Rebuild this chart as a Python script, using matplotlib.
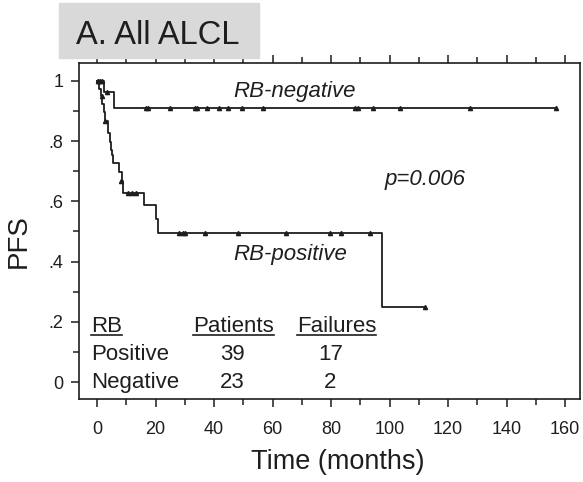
import matplotlib
matplotlib.use("Agg")
import matplotlib.pyplot as plt
from matplotlib.patches import Rectangle
from matplotlib.lines import Line2D

plt.rcParams["font.family"] = ["Liberation Sans", "DejaVu Sans"]

# Kaplan-Meier step data (months, PFS)
neg_times = [0, 2.3, 5.9, 156.9]
neg_surv = [1.0, 0.962, 0.910, 0.910]
neg_cens_t = [0.3, 1.0, 1.8, 3.5, 16.8, 17.4, 25.0, 33.5, 34.2, 37.6, 41.7,
              44.8, 49.6, 56.8, 88.2, 89.2, 94.4, 103.6, 127.5, 156.9]
neg_cens_s = [1.0, 1.0, 1.0, 0.962] + [0.910] * 16

pos_times = [0, 0.6, 1.4, 1.8, 2.3, 2.9, 3.9, 4.3, 4.8, 5.1, 5.4, 7.6, 8.4,
             9.0, 16.2, 20.2, 20.7, 97.5, 112.1]
pos_surv = [1.0, 0.974, 0.949, 0.923, 0.897, 0.866, 0.826, 0.797, 0.770,
            0.754, 0.728, 0.698, 0.667, 0.629, 0.587, 0.540, 0.496, 0.250, 0.250]
pos_cens_t = [0.3, 1.6, 2.7, 8.3, 10.7, 11.9, 13.3, 28.1, 29.3, 30.1, 36.9,
              48.3, 64.6, 79.7, 83.3, 93.3, 112.1]
pos_cens_s = [1.0, 0.949, 0.866, 0.667, 0.629, 0.629, 0.629] + [0.496] * 9 + [0.250]

table_header = ["RB", "Patients", "Failures"]
table_groups = ["Positive", "Negative"]
table_patients = [39, 23]
table_failures = [17, 2]

xticks = [0, 20, 40, 60, 80, 100, 120, 140, 160]
yticks = [0, 0.2, 0.4, 0.6, 0.8, 1.0]
ytick_labels = ["0", ".2", ".4", ".6", ".8", "1"]

ink = "#1e1e1e"

fig = plt.figure(figsize=(5.83, 4.82), dpi=100)
ax = fig.add_axes([79 / 583, 1 - 399 / 482, 501 / 583, 336 / 482])

ax.step(neg_times, neg_surv, where="post", color=ink, lw=1.3)
ax.step(pos_times, pos_surv, where="post", color=ink, lw=1.3)
ax.plot(neg_cens_t, neg_cens_s, ls="none", marker="^", ms=3, color=ink)
ax.plot(pos_cens_t, pos_cens_s, ls="none", marker="^", ms=3, color=ink)

ax.set_xlim(-6.15, 165.1)
ax.set_ylim(-0.056, 1.059)

ax.set_xticks(xticks)
ax.set_xticks(range(10, 170, 20), minor=True)
ax.set_yticks(yticks)
ax.set_yticklabels(ytick_labels)
ax.set_yticks([0.1, 0.3, 0.5, 0.7, 0.9], minor=True)
# top ticks every 10 months like the bottom, no labels
ax.tick_params(axis="x", which="both", direction="out", top=True,
               labeltop=False, labelsize=13, pad=10, colors=ink)
ax.tick_params(axis="y", which="both", direction="out", right=False,
               labelsize=13, pad=5, colors=ink)
ax.tick_params(which="major", length=6, width=1.1)
ax.tick_params(which="minor", length=4, width=1.1)
for sp in ax.spines.values():
    sp.set_linewidth(1.2)
    sp.set_color(ink)

ax.set_xlabel("Time (months)", fontsize=19.5, color=ink, va="top")
ax.xaxis.set_label_coords(0.516, -0.148)
ax.set_ylabel("PFS", fontsize=20, color=ink)
ax.yaxis.set_label_coords(-0.095, 0.47)

ax.text(67.5, 0.947, "RB-negative", fontsize=16, style="italic",
        ha="center", va="baseline", color=ink)
ax.text(66, 0.405, "RB-positive", fontsize=16, style="italic",
        ha="center", va="baseline", color=ink)
ax.text(98.3, 0.654, "p=0.006", fontsize=16, style="italic",
        ha="left", va="baseline", color=ink)

# patients / failures table
hdr = []
hdr.append(ax.text(-2.15, 0.166, table_header[0], fontsize=16, va="baseline", color=ink))
hdr.append(ax.text(32.8, 0.166, table_header[1], fontsize=16, va="baseline", color=ink))
hdr.append(ax.text(68.4, 0.166, table_header[2], fontsize=16, va="baseline", color=ink))
rows_y = [0.074, -0.018]
for g, p, f, y in zip(table_groups, table_patients, table_failures, rows_y):
    ax.text(-2.15, y, g, fontsize=16, va="baseline", color=ink)
    ax.text(46.2, y, str(p), fontsize=16, va="baseline", ha="center", color=ink)
    ax.text(79.8, y, str(f), fontsize=16, va="baseline", ha="center", color=ink)

# title in gray box
fig.patches.append(Rectangle((59 / 583, 1 - 58 / 482), 200 / 583, 55 / 482,
                             transform=fig.transFigure, color="#d9d9d9", zorder=0))
fig.text(76 / 583, 1 - 43.5 / 482, "A. All ALCL", fontsize=23.5,
         va="baseline", ha="left", color=ink)

# underline the table headers
fig.canvas.draw()
r = fig.canvas.get_renderer()
for t in hdr:
    bb = t.get_window_extent(renderer=r)
    y_disp = ax.transData.transform((0, 0.158))[1]
    x0, y0 = fig.transFigure.inverted().transform((bb.x0, y_disp))
    x1, _ = fig.transFigure.inverted().transform((bb.x1, y_disp))
    fig.lines.append(Line2D([x0, x1], [y0, y0], transform=fig.transFigure,
                            color=ink, lw=1.2))

fig.savefig("out.png", dpi=100)
